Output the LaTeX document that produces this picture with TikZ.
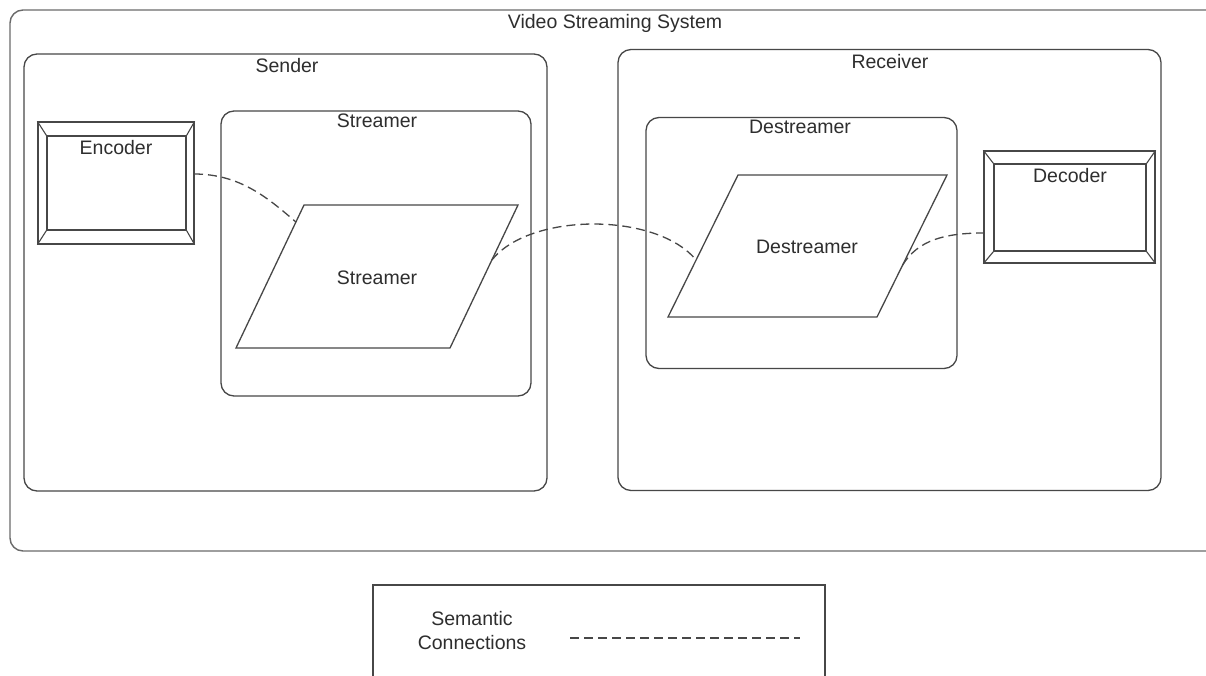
\documentclass[tikz,border=0pt]{standalone}
\usepackage{fontspec}
\setmainfont{Liberation Sans}
\usetikzlibrary{calc}

\definecolor{linecol}{HTML}{474747}
\definecolor{framecol}{HTML}{6A6A6A}
\definecolor{textcol}{HTML}{2E2E2E}

\tikzset{
  frame/.style={draw=framecol, line width=1.4pt, rounded corners=13pt},
  group/.style={draw=linecol, line width=1.3pt, rounded corners=13pt, inner sep=0pt},
  plainbox/.style={draw=linecol, line width=1.3pt, inner sep=0pt},
  bevel/.style={draw=linecol, line width=1.1pt},
  shapeline/.style={draw=linecol, line width=1.3pt, line join=miter},
  semantic/.style={draw=linecol, line width=1.3pt, dash pattern=on 9pt off 5pt},
  lbl/.style={font=\fontsize{19.5}{21}\selectfont, text=textcol, inner sep=0pt, anchor=base},
}

\begin{document}
\begin{tikzpicture}[x=1pt, y=-1pt]
\clip (0,0) rectangle (1206,675);
\fill[white] (0,0) rectangle (1206,675);

% whole system
\draw[frame] (10,10) rectangle (1230,551);
\node[lbl] (sysl) at (615,28) {Video Streaming System};

% sender side
\node[group, minimum width=523pt, minimum height=437pt] (sender) at (285.5,272.5) {};
\node[lbl] (senderl) at (287,72) {Sender};
\node[group, minimum width=310pt, minimum height=285pt] (streamerbox) at (376,253.5) {};
\node[lbl] (streamerboxl) at (377,127) {Streamer};

% receiver side
\node[group, minimum width=543pt, minimum height=441pt] (receiver) at (889.5,270) {};
\node[lbl] (receiverl) at (890,68) {Receiver};
\node[group, minimum width=311pt, minimum height=251pt] (destreamerbox) at (801.5,243) {};
\node[lbl] (destreamerboxl) at (800,133) {Destreamer};

% encoder (bevelled frame)
\node[plainbox, minimum width=156pt, minimum height=122pt] (enc) at (116,183) {};
\node[plainbox, minimum width=139pt, minimum height=94pt] (encin) at (116.5,183) {};
\foreach \c in {north west, north east, south west, south east}
  \draw[bevel] (enc.\c) -- (encin.\c);
\node[lbl] (encl) at (116,154) {Encoder};

% decoder (bevelled frame)
\node[plainbox, minimum width=171pt, minimum height=112pt] (dec) at (1069.5,207) {};
\node[plainbox, minimum width=152pt, minimum height=87pt] (decin) at (1070,207.5) {};
\foreach \c in {north west, north east, south west, south east}
  \draw[bevel] (dec.\c) -- (decin.\c);
\node[lbl] (decl) at (1070,182) {Decoder};

% streamer parallelogram
\coordinate (sBL) at (236,348);
\coordinate (sTL) at (304,205);
\coordinate (sTR) at (518,205);
\coordinate (sBR) at (450,348);
\draw[shapeline] (sBL) -- (sTL) -- (sTR) -- (sBR) -- cycle;
\node[lbl] (streamerl) at (377,284) {Streamer};

% destreamer parallelogram
\coordinate (dBL) at (668,317);
\coordinate (dTL) at (738,175);
\coordinate (dTR) at (947,175);
\coordinate (dBR) at (877,317);
\draw[shapeline] (dBL) -- (dTL) -- (dTR) -- (dBR) -- cycle;
\node[lbl] (destreamerl) at (807,253) {Destreamer};

% connection points
\coordinate (encout) at (194,174);
\coordinate (sin) at ($(sTL)!0.119!(sBL)$);
\coordinate (sout) at ($(sTR)!0.385!(sBR)$);
\coordinate (din) at ($(dTL)!0.599!(dBL)$);
\coordinate (dout) at ($(dTR)!0.634!(dBR)$);
\coordinate (decinpt) at (984,233);

% semantic connections
\draw[semantic] (encout) .. controls (240,174) and (268,198) .. (sin);
\draw[semantic] (sout) .. controls (530,212) and (657,212) .. (din);
\draw[semantic] (dout) .. controls (918,240) and (945,233) .. (decinpt);

% legend
\draw[plainbox] (373,585) rectangle (825,700);
\node[lbl] (lg1) at (472,625) {Semantic};
\node[lbl] (lg2) at (472,649) {Connections};
\coordinate (lga) at (570,638);
\coordinate (lgb) at (800,638);
\draw[semantic] (lga) -- (lgb);
\end{tikzpicture}
\end{document}
